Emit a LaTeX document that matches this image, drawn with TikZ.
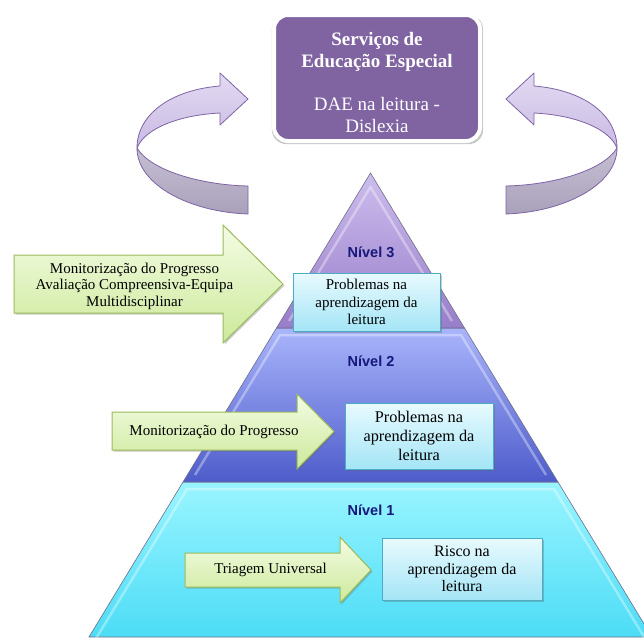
\documentclass[tikz,border=0pt]{standalone}
\usepackage{fontspec}
\setmainfont{Liberation Serif}
\newfontfamily\nivelfont{Liberation Sans}
\usetikzlibrary{shadows}
\definecolor{svcpurple}{HTML}{8064A2}
\definecolor{ribedge}{HTML}{7E63A6}
\definecolor{riblighttop}{HTML}{E3DAF2}
\definecolor{riblightbot}{HTML}{C9BAE3}
\definecolor{ribdarktop}{HTML}{C6BFD3}
\definecolor{ribdarkbot}{HTML}{A9A1BA}
\definecolor{lvlthreetop}{HTML}{CDBDEE}
\definecolor{lvlthreebot}{HTML}{987DC9}
\definecolor{lvltwotop}{HTML}{A9B5FB}
\definecolor{lvltwobot}{HTML}{4E5CCB}
\definecolor{lvlonetop}{HTML}{9AF5FF}
\definecolor{lvlonebot}{HTML}{4CDCF6}
\definecolor{pyredge}{HTML}{6F6F8A}
\definecolor{greentop}{HTML}{F4FCE4}
\definecolor{greenbot}{HTML}{CCE99A}
\definecolor{greenedge}{HTML}{9BBB59}
\definecolor{boxtop}{HTML}{E8FAFE}
\definecolor{boxbot}{HTML}{A4E5F6}
\definecolor{boxedge}{HTML}{4BACC6}
\definecolor{niveltext}{HTML}{16187C}
\begin{document}
\begin{tikzpicture}[x=1pt,y=-1pt,
  ribbonlight/.style={top color=riblighttop, bottom color=riblightbot, draw=ribedge, line width=0.8pt, line join=round},
  ribbondark/.style={top color=ribdarktop, bottom color=ribdarkbot, draw=ribedge, line width=0.8pt, line join=round},
  pyrslice/.style={draw=pyredge, line width=0.6pt},
  bevel/.style={draw=white, draw opacity=0.35, line width=2.5pt, line join=round},
  greenarrow/.style={top color=greentop, bottom color=greenbot, draw=greenedge, line width=1pt, line join=miter,
    drop shadow={shadow xshift=1.5pt, shadow yshift=-1.5pt, opacity=0.35, fill=black!60}},
  greentext/.style={font=\fontsize{15}{16.5}\selectfont, align=center, inner sep=0pt, text=black},
  probbox/.style={top color=boxtop, bottom color=boxbot, draw=boxedge, line width=1pt, inner sep=0pt, align=center,
    drop shadow={shadow xshift=1.5pt, shadow yshift=-1.5pt, opacity=0.35, fill=black!60}},
  nivel/.style={font=\nivelfont\bfseries\fontsize{14.5}{16}\selectfont, text=niveltext, inner sep=0pt}
]
\useasboundingbox (0,0) rectangle (644,637);
\clip (0,0) rectangle (644,637);

% ---------- circular ribbons ----------
% left
\path[ribbondark] (137,148) .. controls (137,185) and (190,212) .. (248,214) -- (248,186)
   .. controls (200,185) and (150,170) .. (137,148) -- cycle;
\path[ribbonlight] (220,113) -- (220,125) -- (248,99) -- (220,73) -- (220,86)
   .. controls (170,90) and (137,115) .. (137,148)
   .. controls (145,128) and (180,115) .. (220,113) -- cycle;
% right (mirrored about x = 377)
\path[ribbondark] (617,148) .. controls (617,185) and (564,212) .. (506,214) -- (506,186)
   .. controls (554,185) and (604,170) .. (617,148) -- cycle;
\path[ribbonlight] (534,113) -- (534,125) -- (506,99) -- (534,73) -- (534,86)
   .. controls (584,90) and (617,115) .. (617,148)
   .. controls (609,128) and (574,115) .. (534,113) -- cycle;

% ---------- top box ----------
\node[draw=white, line width=4pt, fill=svcpurple, rounded corners=14pt, minimum width=206pt, minimum height=126pt,
  inner sep=0pt, drop shadow={shadow xshift=0.5pt, shadow yshift=-1.5pt, shadow scale=1.025, opacity=0.4, fill=black!55}] (svc) at (377,78) {};
\node[align=center, text=white, inner sep=0pt, font=\fontsize{19}{22}\selectfont] (svctext) at (377,82)
  {\textbf{Serviços de}\\\textbf{Educação Especial}\\[21pt]DAE na leitura -\\Dislexia};

% ---------- pyramid ----------
\path[pyrslice, top color=lvlonetop, bottom color=lvlonebot] (183,482) -- (558,482) -- (652,637) -- (89,637) -- cycle;
\path[bevel] (92,645) -- (187,489) -- (554,489) -- (649,645);
\path[pyrslice, top color=lvltwotop, bottom color=lvltwobot] (276.5,328) -- (464.5,328) -- (558,482) -- (183,482) -- cycle;
\path[bevel] (195,475) -- (280,335) -- (461,335) -- (546,475);
\path[pyrslice, top color=lvlthreetop, bottom color=lvlthreebot] (370.5,173) -- (464.5,328) -- (276.5,328) -- cycle;
\path[bevel] (289,321) -- (370.5,187) -- (452,321);

\node[nivel] (n3) at (371,252) {Nível 3};
\node[nivel] (n2) at (371,361) {Nível 2};
\node[nivel] (n1) at (371,510) {Nível 1};

% ---------- green arrows ----------
\path[greenarrow] (14,255) -- (223,255) -- (223,225) -- (283,284) -- (223,343) -- (223,313) -- (14,313) -- cycle;
\node[greentext] (g3) at (134.5,286) {Monitorização do Progresso\\Avaliação Compreensiva-Equipa\\Multidisciplinar};

\path[greenarrow] (112,412) -- (297,412) -- (297,394) -- (334,431.5) -- (297,469) -- (297,450) -- (112,450) -- cycle;
\node[greentext] (g2) at (214,432) {Monitorização do Progresso};

\path[greenarrow] (185,553) -- (340,553) -- (340,537) -- (371,570) -- (340,603) -- (340,587) -- (185,587) -- cycle;
\node[greentext] (g1) at (270.5,570) {Triagem Universal};

% ---------- problem boxes ----------
\node[probbox, minimum width=147pt, minimum height=58pt, font=\fontsize{15}{17.5}\selectfont] (p3) at (366.5,302)
  {Problemas na\\aprendizagem da\\leitura};
\node[probbox, minimum width=148pt, minimum height=66pt, font=\fontsize{16.3}{19}\selectfont] (p2) at (419,436)
  {Problemas na\\aprendizagem da\\leitura};
\node[probbox, minimum width=160pt, minimum height=62pt, font=\fontsize{16}{17.6}\selectfont] (p1) at (462,569)
  {Risco na\\aprendizagem da\\leitura};
\end{tikzpicture}
\end{document}
